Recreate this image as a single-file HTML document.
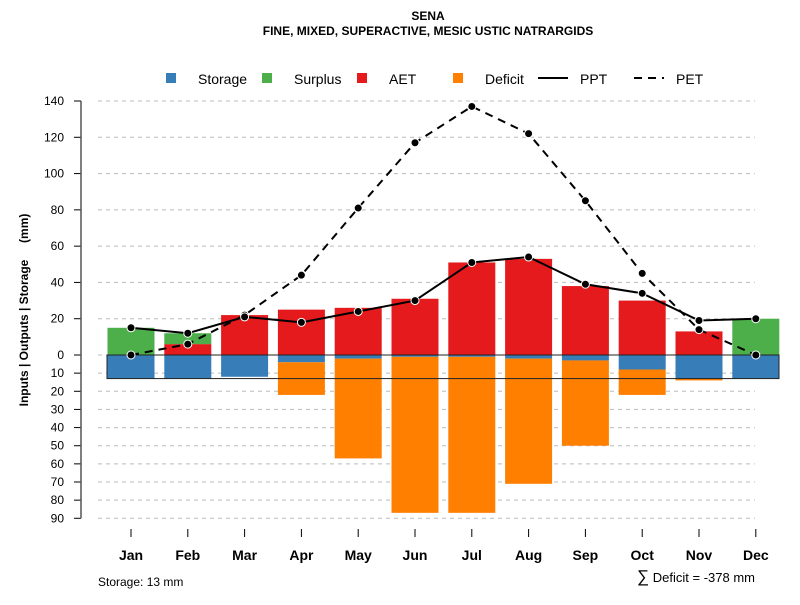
<!DOCTYPE html>
<html><head><meta charset="utf-8"><style>
body{margin:0;background:#fff;font-family:"Liberation Sans",sans-serif}
svg text{font-family:"Liberation Sans",sans-serif}
</style></head><body>
<svg id="c" width="800" height="600" viewBox="0 0 800 600">
<text x="428" y="20" text-anchor="middle" font-size="12" font-weight="bold">SENA</text>
<text x="428" y="35" text-anchor="middle" font-size="12" font-weight="bold">FINE, MIXED, SUPERACTIVE, MESIC USTIC NATRARGIDS</text>
<g font-size="14">
<rect x="166" y="73" width="10" height="10" fill="#377eb8"/>
<text x="198" y="84">Storage</text>
<rect x="262" y="73" width="10" height="10" fill="#4daf4a"/>
<text x="294" y="84">Surplus</text>
<rect x="357" y="73" width="10" height="10" fill="#e41a1c"/>
<text x="389" y="84">AET</text>
<rect x="453" y="73" width="10" height="10" fill="#ff7f00"/>
<text x="485" y="84">Deficit</text>
<line x1="538" y1="78" x2="568" y2="78" stroke="#000" stroke-width="2"/>
<text x="580" y="84">PPT</text>
<line x1="634" y1="78" x2="664" y2="78" stroke="#000" stroke-width="2" stroke-dasharray="8,6"/>
<text x="676" y="84">PET</text>
</g>
<text transform="translate(28,310) rotate(-90)" text-anchor="middle" font-size="12" font-weight="bold" xml:space="preserve">Inputs | Outputs | Storage     (mm)</text>
<text x="98" y="586" font-size="12">Storage: 13 mm</text>
<text x="755" y="582" text-anchor="end" font-size="13"><tspan font-size="17">∑</tspan> Deficit = -378 mm</text>
<g id="g"></g>
</svg>
<script>
const months=["Jan","Feb","Mar","Apr","May","Jun","Jul","Aug","Sep","Oct","Nov","Dec"];
const aet=[0,6,22,25,26,31,51,53,38,30,13,0];
const surplus=[15,6,0,0,0,0,0,0,0,0,0,20];
const storage=[13,13,12,4,2,1,1,2,3,8,13,13];
const deficit=[0,0,0,18,55,86,86,69,47,14,1,0];
const ppt=[15,12,21,18,24,30,51,54,39,34,19,20];
const pet=[0,6,22,44,81,117,137,122,85,45,14,0];
const upTicks=[0,20,40,60,80,100,120,140];
const downTicks=[10,20,30,40,50,60,70,80,90];
const storageCap=13;
const NS="http://www.w3.org/2000/svg";
const g=document.getElementById('g');
const y0=355,k=254/140;
const yU=v=>y0-v*k, yD=v=>y0+v*k;
const xM=i=>131+i*56.8;
const bw=47;
function el(t,a){const e=document.createElementNS(NS,t);for(const n in a)e.setAttribute(n,a[n]);g.appendChild(e);return e;}
upTicks.forEach(v=>{
 if(v>0){const l=el('line',{x1:98,x2:755,y1:yU(v),y2:yU(v),stroke:'#bbb','stroke-dasharray':'4,4'});
 
 }
 const t=el('line',{x1:74,x2:81,y1:yU(v),y2:yU(v),stroke:'#000'});
 
 
 const tx=el('text',{x:64,y:yU(v)+4,'text-anchor':'end','font-size':12});tx.textContent=v;
 
 
 if(v===0){const z=el('line',{x1:98,x2:755,y1:y0,y2:y0,stroke:'#bbb','stroke-dasharray':'4,4'});
 
 }
});
downTicks.forEach(v=>{
 const l=el('line',{x1:98,x2:755,y1:yD(v),y2:yD(v),stroke:'#bbb','stroke-dasharray':'4,4'});
 
 
 const t=el('line',{x1:74,x2:81,y1:yD(v),y2:yD(v),stroke:'#000'});
 
 
 const tx=el('text',{x:64,y:yD(v)+4,'text-anchor':'end','font-size':12});tx.textContent=v;
 
 
});
const ax=el('line',{x1:81,x2:81,y1:yU(140),y2:yD(90),stroke:'#555','stroke-width':1.5});


months.forEach((m,i)=>{
 const x=xM(i)-bw/2;
 function bar(a,b,c,name){if(Math.abs(b-a)<0.01)return;const r=el('rect',{x:x,width:bw,y:Math.min(a,b),height:Math.abs(b-a),fill:c});
  
  }
 bar(yU(0),yU(aet[i]),'#e41a1c','bar-aet-'+m.toLowerCase());
 bar(yU(aet[i]),yU(aet[i]+surplus[i]),'#4daf4a','bar-surplus-'+m.toLowerCase());
 bar(yD(0),yD(storage[i]),'#377eb8','bar-storage-'+m.toLowerCase());
 bar(yD(storage[i]),yD(storage[i]+deficit[i]),'#ff7f00','bar-deficit-'+m.toLowerCase());
 const t=el('line',{x1:xM(i),x2:xM(i),y1:529,y2:537,stroke:'#000'});
 
 
 const tx=el('text',{x:xM(i),y:560,'text-anchor':'middle','font-size':14,'font-weight':'bold'});tx.textContent=m;
 
 
});
const box=el('rect',{x:107,y:y0,width:672,height:storageCap*k,fill:'none',stroke:'#222','stroke-width':1});


function line(arr,dash,name){
 const p=el('polyline',{points:arr.map((v,i)=>xM(i)+','+yU(v)).join(' '),fill:'none',stroke:'#000','stroke-width':2,'stroke-dasharray':dash});
 
 
 arr.forEach((v,i)=>{const c=el('circle',{cx:xM(i),cy:yU(v),r:4,fill:'#000',stroke:'#fff','stroke-width':1});
  
  });
}
line(pet,'8,6','pet');
line(ppt,'none','ppt');
</script>
</body></html>
